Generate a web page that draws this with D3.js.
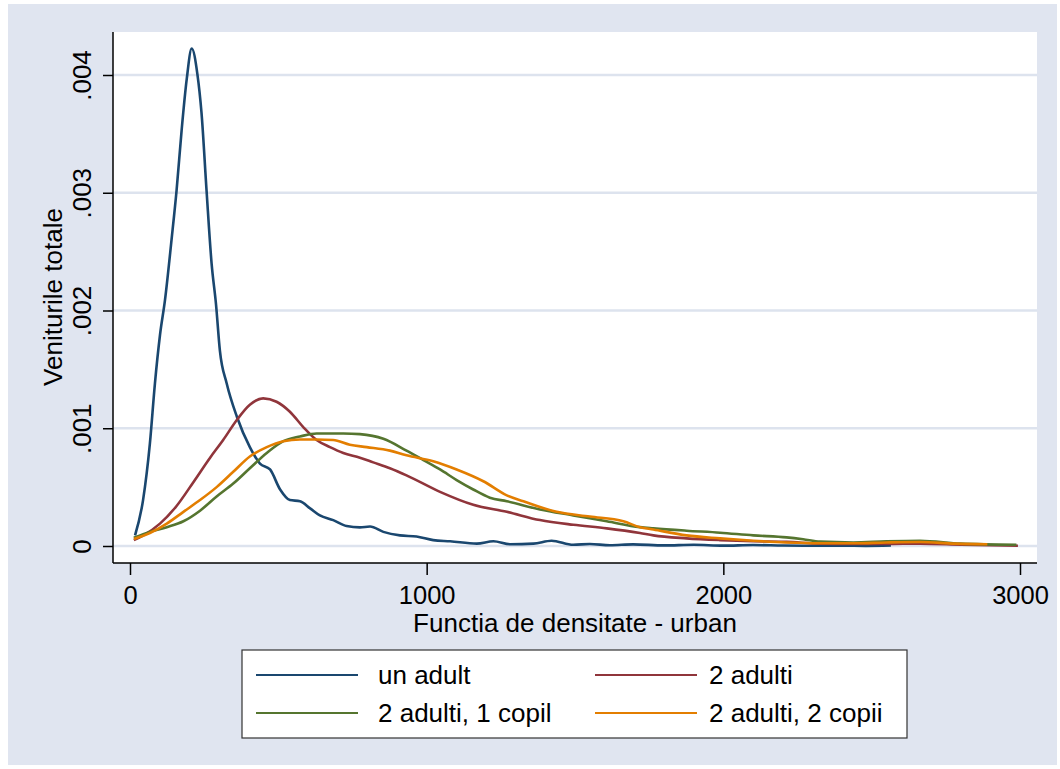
<!DOCTYPE html>
<html>
<head>
<meta charset="utf-8">
<script src="https://cdn.jsdelivr.net/npm/d3@7"></script>
<style>
  html, body { margin: 0; padding: 0; background: #ffffff; }
  svg { display: block; font-family: "Liberation Sans", Arial, sans-serif; }
</style>
</head>
<body>
<svg id="chart" width="1060" height="769"></svg>
<script>
// Kernel density estimates of total income, by household type (urban)
const seriesNames = ["un adult", "2 adulti", "2 adulti, 1 copil", "2 adulti, 2 copii"];
const seriesColors = ["#1a476f", "#90353b", "#55752f", "#e37e00"];

const unAdultX = [17, 44, 67, 84, 101, 118, 140, 157, 174, 191, 208, 227, 241, 258, 275, 290, 303, 326, 360, 404, 438, 472, 506, 539, 573, 607, 640, 685, 730, 775, 809, 854, 910, 966, 1022, 1079, 1169, 1225, 1281, 1360, 1421, 1494, 1550, 1618, 1696, 1800, 1900, 2000, 2100, 2200, 2300, 2400, 2480, 2565];
const unAdultY = [0.00009, 0.00039, 0.00087, 0.00138, 0.00179, 0.00209, 0.0026, 0.00302, 0.00353, 0.00396, 0.004225, 0.00401, 0.00368, 0.00302, 0.0024, 0.00205, 0.00166, 0.00138, 0.0011, 0.00084, 0.0007, 0.00065, 0.00048, 0.00039, 0.00038, 0.00032, 0.00026, 0.00022, 0.00017, 0.000158, 0.000165, 0.00012, 0.00009, 0.00008, 0.00005, 0.00004, 0.00002, 0.00004, 0.000015, 0.00002, 0.000045, 0.00001, 0.000017, 0.000006, 0.000014, 0.000005, 0.00001, 0.000003, 0.000008, 0.000004, 0.000002, 0.000003, 0.000001, 0.000004];

const doiAdultiX = [13, 45, 101, 157, 213, 270, 314, 360, 404, 449, 494, 539, 584, 629, 674, 719, 775, 820, 876, 932, 1045, 1157, 1270, 1382, 1494, 1607, 1719, 1764, 1876, 1989, 2101, 2213, 2326, 2438, 2550, 2663, 2800, 2993];
const doiAdultiY = [0.00005, 0.00009, 0.00019, 0.00034, 0.00054, 0.00075, 0.0009, 0.00107, 0.0012, 0.001254, 0.001225, 0.00114, 0.00101, 0.0009, 0.00084, 0.00079, 0.00075, 0.00071, 0.00066, 0.0006, 0.00046, 0.00035, 0.00029, 0.00022, 0.00018, 0.00015, 0.00011, 0.00009, 0.000065, 0.00005, 0.00004, 0.000035, 0.00002, 0.000017, 0.000017, 0.00002, 0.000012, 0.000002];

const unCopilX = [13, 67, 124, 180, 236, 292, 348, 404, 461, 517, 573, 629, 719, 775, 854, 932, 989, 1045, 1101, 1157, 1213, 1270, 1382, 1494, 1607, 1719, 1764, 1876, 1989, 2101, 2213, 2269, 2326, 2438, 2550, 2663, 2800, 2988];
const unCopilY = [0.00007, 0.00012, 0.00016, 0.00021, 0.0003, 0.00042, 0.00053, 0.00066, 0.00079, 0.00089, 0.00093, 0.000956, 0.000956, 0.00095, 0.00091, 0.00081, 0.00073, 0.00065, 0.00056, 0.00048, 0.00041, 0.00038, 0.00031, 0.00026, 0.00021, 0.00016, 0.00015, 0.00013, 0.000113, 0.00009, 0.000073, 0.000057, 0.000037, 0.00003, 0.00004, 0.000045, 0.00002, 0.00001];

const doiCopiiX = [13, 67, 124, 180, 236, 292, 348, 404, 461, 517, 573, 629, 685, 741, 798, 876, 932, 1022, 1101, 1191, 1270, 1326, 1438, 1550, 1663, 1719, 1764, 1876, 1989, 2101, 2213, 2326, 2438, 2550, 2663, 2780, 2890];
const doiCopiiY = [0.00006, 0.00011, 0.00019, 0.00029, 0.00039, 0.0005, 0.00063, 0.00076, 0.00084, 0.00089, 0.000905, 0.000905, 0.0009, 0.00086, 0.00084, 0.00081, 0.00077, 0.00072, 0.00065, 0.00055, 0.00043, 0.00038, 0.00029, 0.00025, 0.00021, 0.00016, 0.00014, 0.00009, 0.000065, 0.000045, 0.00003, 0.000023, 0.000023, 0.00003, 0.000034, 0.00002, 0.000015];

const xTicks = [0, 1000, 2000, 3000];
const yTicks = [0, 0.001, 0.002, 0.003, 0.004];
const yTickLabels = ["0", ".001", ".002", ".003", ".004"];
const xTitle = "Functia de densitate - urban";
const yTitle = "Veniturile totale";

const seriesX = [unAdultX, doiAdultiX, unCopilX, doiCopiiX];
const seriesY = [unAdultY, doiAdultiY, unCopilY, doiCopiiY];

const svg = d3.select("#chart");
const bg = "#e0e5f0";
const gridColor = "#dde3ee";
const fontSize = 26;

// graph region
svg.append("rect").attr("x", 8).attr("y", 4).attr("width", 1049).attr("height", 761).attr("fill", bg);

// plot region
const plot = { left: 113, right: 1037, top: 32, bottom: 563 };
svg.append("rect")
  .attr("x", plot.left).attr("y", plot.top)
  .attr("width", plot.right - plot.left).attr("height", plot.bottom - plot.top)
  .attr("fill", "#ffffff");

const x = d3.scaleLinear().domain([0, 3000]).range([130, 1020]);
const y = d3.scaleLinear().domain([0, 0.004]).range([546, 75]);

// gridlines
svg.append("g").selectAll("line").data(yTicks).join("line")
  .attr("x1", plot.left).attr("x2", plot.right)
  .attr("y1", d => y(d)).attr("y2", d => y(d))
  .attr("stroke", gridColor).attr("stroke-width", 2.5);

// series
const line = d3.line().x(d => x(d[0])).y(d => y(d[1])).curve(d3.curveMonotoneX);
seriesNames.forEach((name, i) => {
  const pts = seriesX[i].map((v, j) => [v, seriesY[i][j]]);
  svg.append("path").datum(pts)
    .attr("d", line)
    .attr("fill", "none")
    .attr("stroke", seriesColors[i])
    .attr("stroke-width", 2.6)
    .attr("stroke-linejoin", "round");
});

// y axis
const yAxis = d3.axisLeft(y).tickValues(yTicks)
  .tickFormat((d, i) => yTickLabels[i]).tickSize(10).tickSizeOuter(0);
const gy = svg.append("g").attr("transform", `translate(${plot.left},0)`).call(yAxis);
gy.select(".domain").attr("d", `M0,${plot.top}V${plot.bottom}`).attr("stroke", "#000").attr("stroke-width", 1.5);
gy.selectAll(".tick line").attr("stroke", "#000").attr("stroke-width", 1.5);
gy.selectAll(".tick text")
  .attr("transform", "rotate(-90)")
  .attr("text-anchor", "middle")
  .attr("x", 0).attr("y", -31).attr("dy", "0.35em")
  .attr("font-size", fontSize).attr("font-family", "Liberation Sans, Arial, sans-serif")
  .attr("fill", "#000");

// x axis
const xAxis = d3.axisBottom(x).tickValues(xTicks).tickFormat(d3.format("d"))
  .tickSize(12).tickPadding(11).tickSizeOuter(0);
const gx = svg.append("g").attr("transform", `translate(0,${plot.bottom})`).call(xAxis);
gx.select(".domain").attr("d", `M${plot.left},0H${plot.right}`).attr("stroke", "#000").attr("stroke-width", 1.5);
gx.selectAll(".tick line").attr("stroke", "#000").attr("stroke-width", 1.5);
gx.selectAll(".tick text")
  .attr("font-size", 25.5).attr("font-family", "Liberation Sans, Arial, sans-serif")
  .attr("fill", "#000");

// axis titles
svg.append("text").attr("x", (plot.left + plot.right) / 2).attr("y", 632)
  .attr("text-anchor", "middle").attr("font-size", fontSize).attr("fill", "#000").text(xTitle);
svg.append("text").attr("transform", "translate(62,297) rotate(-90)")
  .attr("text-anchor", "middle").attr("font-size", fontSize).attr("fill", "#000").text(yTitle);

// legend
const legend = svg.append("g");
legend.append("rect").attr("x", 242).attr("y", 650).attr("width", 665).attr("height", 88)
  .attr("fill", "#ffffff").attr("stroke", "#333").attr("stroke-width", 1.2);
const colLineX = [256, 595];
const colTextX = [378, 709];
const rowY = [675, 713];
seriesNames.forEach((name, i) => {
  const c = i % 2, cy = rowY[Math.floor(i / 2)];
  legend.append("line").attr("x1", colLineX[c]).attr("x2", colLineX[c] + 102).attr("y1", cy).attr("y2", cy)
    .attr("stroke", seriesColors[i]).attr("stroke-width", 2.2);
  legend.append("text").attr("x", colTextX[c]).attr("y", cy).attr("dy", "0.35em")
    .attr("font-size", fontSize).attr("fill", "#000").text(name);
});
</script>
</body>
</html>
